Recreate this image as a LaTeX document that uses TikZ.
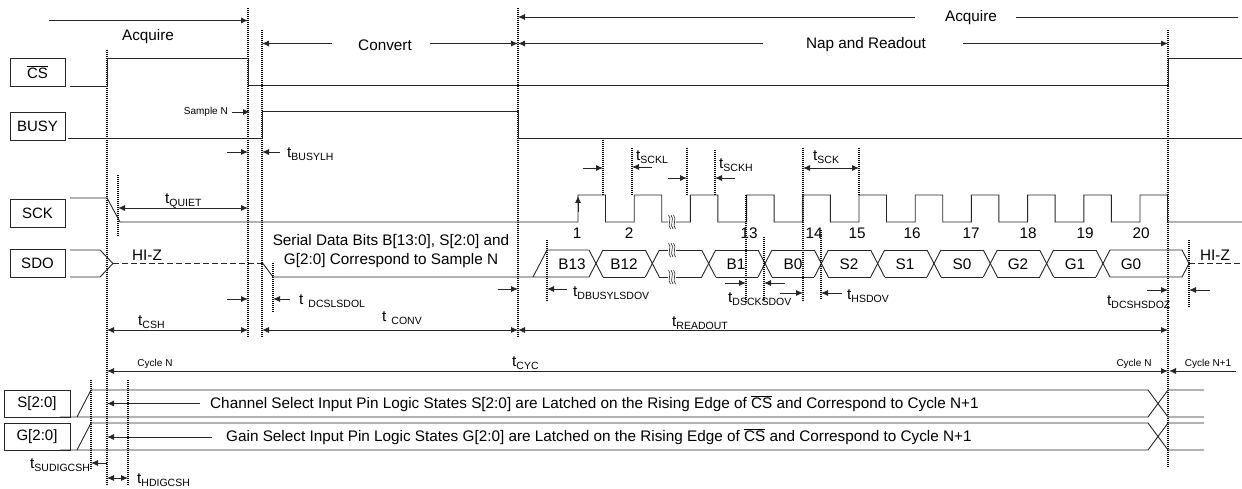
\documentclass[tikz,border=0pt]{standalone}
\usepackage{fontspec}
\setmainfont{Liberation Sans}
\usetikzlibrary{arrows.meta}
\newcommand\tsub[1]{t{\fontsize{10.5}{12}\selectfont\raisebox{-3.5pt}{#1}}}
\newcommand\tsubg[1]{t\hspace{5pt}{\fontsize{10.5}{12}\selectfont\raisebox{-3.5pt}{#1}}}
\newcommand\csbar{$\overline{\hbox{CS}}$}
\newcommand\brkmark[2]{%
  \fill[white] (#1-4,#2-6) rectangle (#1+4,#2+6);
  \foreach \d in {-2.5,0,2.5}
    \draw[line width=0.6pt, black!85] ({#1+\d-1},#2-7) .. controls ({#1+\d+3},#2-3) and ({#1+\d-3},#2+3) .. ({#1+\d+1},#2+7);}
\begin{document}
\begin{tikzpicture}[x=1pt,y=-1pt,
  sig/.style={line width=0.9pt, black!85},
  vdot/.style={line width=1.3pt, dash pattern=on 1pt off 1pt, black},
  arr/.style={sig, -{Latex[length=7pt,width=6pt]}},
  darr/.style={sig, {Latex[length=7pt,width=6pt]}-{Latex[length=7pt,width=6pt]}},
  hiz/.style={line width=1.2pt, black!85, dash pattern=on 6pt off 3pt},
  txt/.style={font=\fontsize{15.3}{18.5}\selectfont, inner sep=0pt},
  sm/.style={font=\fontsize{10}{12}\selectfont, inner sep=0pt},
  tl/.style={txt, anchor=west},
  sigbox/.style={draw, line width=0.9pt, black!85, text=black, minimum width=55pt, minimum height=28pt, inner sep=0pt, font=\fontsize{15}{18}\selectfont},
]
\useasboundingbox (0,0) rectangle (1242,489);

% ---------- signal name boxes
\node[sigbox] (cs) at (37.5,72) {\csbar};
\node[sigbox] (busy) at (37.5,126.5) {BUSY};
\node[sigbox] (sck) at (37.5,213.5) {SCK};
\node[sigbox] (sdo) at (37.5,263.5) {SDO};
\node[sigbox, minimum width=66pt, minimum height=27pt] (sbus) at (37,403.5) {S[2:0]};
\node[sigbox, minimum width=66pt, minimum height=27pt] (gbus) at (37,436.5) {G[2:0]};

% ---------- main dotted reference lines
\draw[vdot] (107,50) -- (107,485);
\draw[vdot] (248,8) -- (248,338);
\draw[vdot] (262,30) -- (262,338);
\draw[vdot] (518,8) -- (518,338);
\draw[vdot] (1168,30) -- (1168,467);

% ---------- phase annotations
\draw[arr] (49,20.5) -- (248,20.5);
\node[txt] (acqA) at (148,37) {Acquire};
\draw[arr] (915,17) -- (518,17);
\node[txt] (acqB) at (971,18) {Acquire};
\draw[sig] (1016,17) -- (1238,17);
\draw[arr] (332,43.5) -- (262,43.5);
\node[txt] (conv) at (385,45) {Convert};
\draw[arr] (430,43.5) -- (518,43.5);
\draw[arr] (763,43.5) -- (518,43.5);
\node[txt] (nap) at (866,45) {Nap and Readout};
\draw[arr] (963,43.5) -- (1168,43.5);

% ---------- CS and BUSY
\draw[sig] (70,86) -- (107,86) -- (107,58) -- (248,58) -- (248,85) -- (1168,85) -- (1168,58) -- (1242,58);
\draw[sig] (68,138) -- (262,138) -- (262,111) -- (518,111) -- (518,138) -- (1242,138);
\node[sm, anchor=east] (sampn) at (228,112) {Sample N};
\draw[arr] (232,112) -- (250,112);
\draw[arr] (227,152) -- (248,152);
\draw[arr] (280,152) -- (262,152);
\node[tl] (tbusylh) at (287,154) {\tsub{BUSYLH}};

% ---------- SCK
\draw[sig] (70,198) -- (107,198) -- (120,222)
  foreach \k in {0,...,10} { -- ({578+56.2*\k},222) -- ({578+56.2*\k},195) -- ({605.5+56.2*\k},195) -- ({605.5+56.2*\k},222) }
  -- (1242,222);
\draw[sig, -{Latex[length=7pt,width=6pt]}] (578,212) -- (578,196);
\foreach \n/\x in {1/577,2/629,13/749,14/814,15/857,16/912,17/971,18/1028,19/1085,20/1141}
  \node[txt] (num\n) at (\x,233) {\n};
\brkmark{672}{222}

\draw[vdot] (118,175) -- (118,237);
\draw[darr] (118,208) -- (248,208);
\node[tl] (tquiet) at (165,201) {\tsub{QUIET}};

% clock timing marks
\draw[vdot] (603,140) -- (603,195);
\draw[vdot] (632,148) -- (632,195);
\draw[vdot] (687,148) -- (687,195);
\draw[vdot] (715,150) -- (715,195);
\draw[vdot] (803,148) -- (803,302);
\draw[vdot] (859,148) -- (859,195);
\draw[arr] (583,168) -- (603,168);
\draw[arr] (652,167) -- (632,167);
\node[tl] (tsckl) at (636,157) {\tsub{SCKL}};
\draw[arr] (668,178) -- (687,178);
\draw[arr] (735,178) -- (715,178);
\node[tl] (tsckh) at (719,165) {\tsub{SCKH}};
\draw[darr] (803,168) -- (859,168);
\node[tl] (tsck) at (813,157) {\tsub{SCK}};

% ---------- SDO
\draw[sig] (70,250) -- (100,250) -- (113,263.5) -- (100,277) -- (70,277);
\draw[hiz] (113,263.5) -- (263,263.5);
\node[txt] (hizA) at (147,255) {HI-Z};
\draw[sig] (263,263.5) -- (273,277) -- (589,277);
\draw[sig] (533,277) -- (547,250) -- (589,250);
\foreach \i in {0,...,9} {
  \draw[sig] ({596+56.33*\i-7},250) -- ({596+56.33*\i+7},277);
  \draw[sig] ({596+56.33*\i-7},277) -- ({596+56.33*\i+7},250);
}
\foreach \i in {0,...,8} {
  \draw[sig] ({596+56.33*\i+7},250) -- ({596+56.33*(\i+1)-7},250);
  \draw[sig] ({596+56.33*\i+7},277) -- ({596+56.33*(\i+1)-7},277);
}
\draw[sig] (1110,250) -- (1182,250) -- (1189,263.5) -- (1182,277) -- (1110,277);
\draw[hiz] (1189,263.5) -- (1242,263.5);
\node[txt] (hizB) at (1215,255) {HI-Z};
\brkmark{672}{250}
\brkmark{672}{277}
\foreach \lab/\x in {B13/572,B12/624,B1/736,B0/793,S2/849,S1/905,S0/962,G2/1018,G1/1075,G0/1131}
  \node[txt] (cell\lab) at (\x,264) {\lab};
\node[txt, align=center] (serial) at (391,251) {Serial Data Bits B[13:0], S[2:0] and\\G[2:0] Correspond to Sample N};

% SDO timing marks
\draw[vdot] (273,263) -- (273,313);
\draw[arr] (227,299) -- (248,299);
\draw[arr] (290,299) -- (273,299);
\node[tl] (tdcsl) at (299,301) {\tsubg{DCSLSDOL}};
\draw[vdot] (547,240) -- (547,302);
\draw[arr] (498,289) -- (518,289);
\draw[arr] (567,289) -- (547,289);
\node[tl] (tdbusy) at (573,293) {\tsub{DBUSYLSDOV}};
\draw[vdot] (746,195) -- (746,303);
\draw[vdot] (764,237) -- (764,300);
\draw[arr] (725,283) -- (746,283);
\draw[arr] (785,283) -- (764,283);
\node[tl] (tdsck) at (728,299) {\tsub{DSCKSDOV}};
\draw[vdot] (821,230) -- (821,300);
\draw[arr] (780,293) -- (803,293);
\draw[arr] (842,293) -- (821,293);
\node[tl] (thsdov) at (847,296) {\tsub{HSDOV}};
\draw[vdot] (1189,240) -- (1189,307);
\draw[arr] (1147,290) -- (1168,290);
\draw[arr] (1210,290) -- (1189,290);
\node[tl] (tdcsh) at (1107,302) {\tsub{DCSHSDOZ}};

% ---------- interval arrows
\draw[darr] (107,330) -- (248,330);
\node[tl] (tcsh) at (138,322) {\tsub{CSH}};
\draw[darr] (262,330) -- (518,330);
\node[tl] (tconv) at (382,318) {\tsubg{CONV}};
\draw[darr] (518,330) -- (1168,330);
\node[tl] (tread) at (672,323) {\tsub{READOUT}};

% ---------- cycle
\draw[darr] (107,371) -- (1168,371);
\node[sm] (cycA) at (155,364) {Cycle N};
\node[tl] (tcyc) at (512,363) {\tsub{CYC}};
\node[sm] (cycB) at (1134,364) {Cycle N};
\draw[arr] (1236,371) -- (1169,371);
\node[sm] (cycC) at (1208,364) {Cycle N+1};

% ---------- S[2:0] and G[2:0]
\draw[sig] (60,417) -- (1148,417) -- (1168,390) -- (1204,390);
\draw[sig] (77,417) -- (91,390) -- (1148,390) -- (1168,417) -- (1204,417);
\draw[sig] (60,450) -- (1148,450) -- (1168,423) -- (1204,423);
\draw[sig] (77,450) -- (91,423) -- (1148,423) -- (1168,450) -- (1204,450);
\draw[arr] (200,403.5) -- (107,403.5);
\node[tl] (stxt) at (210,403.5) {Channel Select Input Pin Logic States S[2:0] are Latched on the Rising Edge of \csbar{} and Correspond to Cycle N+1};
\draw[arr] (212,437) -- (107,437);
\node[tl] (gtxt) at (226,437) {Gain Select Input Pin Logic States G[2:0] are Latched on the Rising Edge of \csbar{} and Correspond to Cycle N+1};

\draw[vdot] (91,380) -- (91,470);
\draw[vdot] (128,380) -- (128,485);
\draw[arr] (107,463) -- (91,463);
\node[txt, anchor=west] (tsud) at (30,465) {\tsub{SUDIGCSH}};
\draw[darr] (107,478) -- (128,478);
\node[tl] (thd) at (137,480) {\tsub{HDIGCSH}};
\end{tikzpicture}
\end{document}
